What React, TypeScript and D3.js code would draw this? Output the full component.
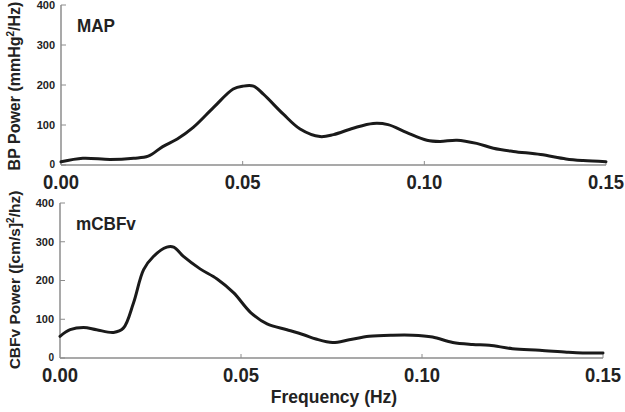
import { useEffect, useRef } from "react";
import * as d3 from "d3";

// MAP power spectrum (frequency Hz, mmHg^2/Hz)
const mapFreq = [0, 0.006, 0.0135, 0.02, 0.024, 0.028, 0.032, 0.0364, 0.042, 0.0474, 0.05, 0.053, 0.0557, 0.0612, 0.0658, 0.0713, 0.075, 0.0804, 0.0859, 0.09, 0.0952, 0.1007, 0.1043, 0.109, 0.1144, 0.119, 0.1245, 0.132, 0.139, 0.1437, 0.15];
const mapPower = [8, 17, 14, 17, 22, 46, 65, 94, 144, 190, 197, 197, 177, 127, 90, 71, 76, 92, 104, 101, 81, 62, 59, 62, 54, 42, 34, 26, 15, 11, 8];

// mCBFv power spectrum (frequency Hz, (cm/s)^2/Hz)
const cbfFreq = [0, 0.0028, 0.0065, 0.0101, 0.0148, 0.0175, 0.0203, 0.0231, 0.0258, 0.0295, 0.0314, 0.0341, 0.0387, 0.0434, 0.048, 0.0526, 0.0572, 0.0627, 0.0673, 0.0707, 0.0753, 0.0799, 0.0854, 0.0919, 0.0974, 0.1029, 0.1085, 0.114, 0.1186, 0.125, 0.1325, 0.14, 0.1444, 0.15];
const cbfPower = [56, 73, 79, 73, 66, 77, 142, 228, 262, 286, 286, 262, 230, 204, 168, 118, 88, 73, 60, 49, 40, 47, 56, 59, 59, 54, 40, 35, 33, 24, 20, 15, 13, 13];

const xTicks = [0, 0.05, 0.1, 0.15];
const yTicks = [0, 100, 200, 300, 400];

const panels = [
  { name: "MAP", freq: mapFreq, power: mapPower, x0: 61, x1: 606, yTop: 5, yBot: 165, titleY: 86, titleSize: 16, title: ["BP Power (mmHg", "2", "/Hz)"] },
  { name: "mCBFv", freq: cbfFreq, power: cbfPower, x0: 60, x1: 603, yTop: 203, yBot: 358, titleY: 280, titleSize: 15.5, title: ["CBFv Power ([cm/s]", "2", "/hz)"] },
];

const App = () => {
  const svgRef = useRef<SVGSVGElement>(null);

  useEffect(() => {
    const svg = d3.select(svgRef.current);
    svg.selectAll("*").remove();
    const font = "'Liberation Sans', Arial, sans-serif";
    const axisColor = "#8c8c8c";

    panels.forEach((p) => {
      const x = d3.scaleLinear().domain([0, 0.15]).range([p.x0, p.x1]);
      const y = d3.scaleLinear().domain([0, 400]).range([p.yBot, p.yTop]);
      const g = svg.append("g");

      // axes lines
      g.append("line").attr("x1", p.x0).attr("x2", p.x0).attr("y1", y(400)).attr("y2", y(0))
        .attr("stroke", axisColor).attr("stroke-width", 1.5);
      g.append("line").attr("x1", p.x0).attr("x2", p.x1).attr("y1", y(0)).attr("y2", y(0))
        .attr("stroke", axisColor).attr("stroke-width", 1.5);

      // y ticks
      yTicks.forEach((t) => {
        g.append("line").attr("x1", p.x0).attr("x2", p.x0 + 5).attr("y1", y(t)).attr("y2", y(t))
          .attr("stroke", axisColor).attr("stroke-width", 1);
        g.append("text").attr("x", p.x0 - 6).attr("y", t === 0 ? y(t) - 1 : y(t)).attr("dy", "0.35em")
          .attr("text-anchor", "end").attr("font-family", font).attr("font-weight", "bold")
          .attr("font-size", t === 0 ? 10 : 11).attr("fill", "#222").text(t);
      });

      // x ticks
      xTicks.forEach((t) => {
        if (t > 0) {
          g.append("line").attr("x1", x(t)).attr("x2", x(t)).attr("y1", y(0)).attr("y2", y(0) - 4)
            .attr("stroke", axisColor).attr("stroke-width", 1);
        }
        g.append("text")
          .attr("transform", `translate(${x(t)},${y(0) + 24}) scale(0.9,1)`)
          .attr("text-anchor", "middle").attr("font-family", font).attr("font-weight", "bold")
          .attr("font-size", 20.5).attr("fill", "#222").text(d3.format(".2f")(t));
      });

      // panel label
      g.append("text")
        .attr("transform", `translate(${p.x0 + 16},${p.yTop + 27}) scale(0.9,1)`)
        .attr("font-family", font).attr("font-weight", "bold").attr("font-size", 19)
        .attr("fill", "#222").text(p.name);

      // y title
      const ty = g.append("text")
        .attr("transform", `translate(19.5,${p.titleY}) rotate(-90)`)
        .attr("text-anchor", "middle").attr("font-family", font).attr("font-weight", "bold")
        .attr("font-size", p.titleSize).attr("fill", "#222");
      ty.append("tspan").text(p.title[0]);
      ty.append("tspan").attr("font-size", 10).attr("dy", -6).text(p.title[1]);
      ty.append("tspan").attr("dy", 6).text(p.title[2]);

      // curve
      const line = d3.line<number>()
        .x((_, i) => x(p.freq[i]))
        .y((d) => y(d))
        .curve(d3.curveCatmullRom);
      g.append("path").datum(p.power).attr("d", line)
        .attr("fill", "none").attr("stroke", "#1a1a1a").attr("stroke-width", 3)
        .attr("stroke-linejoin", "round").attr("stroke-linecap", "round");
    });

    // x title
    svg.append("text")
      .attr("transform", "translate(334,403)")
      .attr("text-anchor", "middle").attr("font-family", font).attr("font-weight", "bold")
      .attr("font-size", 17.5).attr("fill", "#222").text("Frequency (Hz)");
  }, []);

  return (
    <svg ref={svgRef} width={625} height={412}
      style={{ position: "absolute", left: 0, top: 0, background: "#fff" }} />
  );
};

export default App;
